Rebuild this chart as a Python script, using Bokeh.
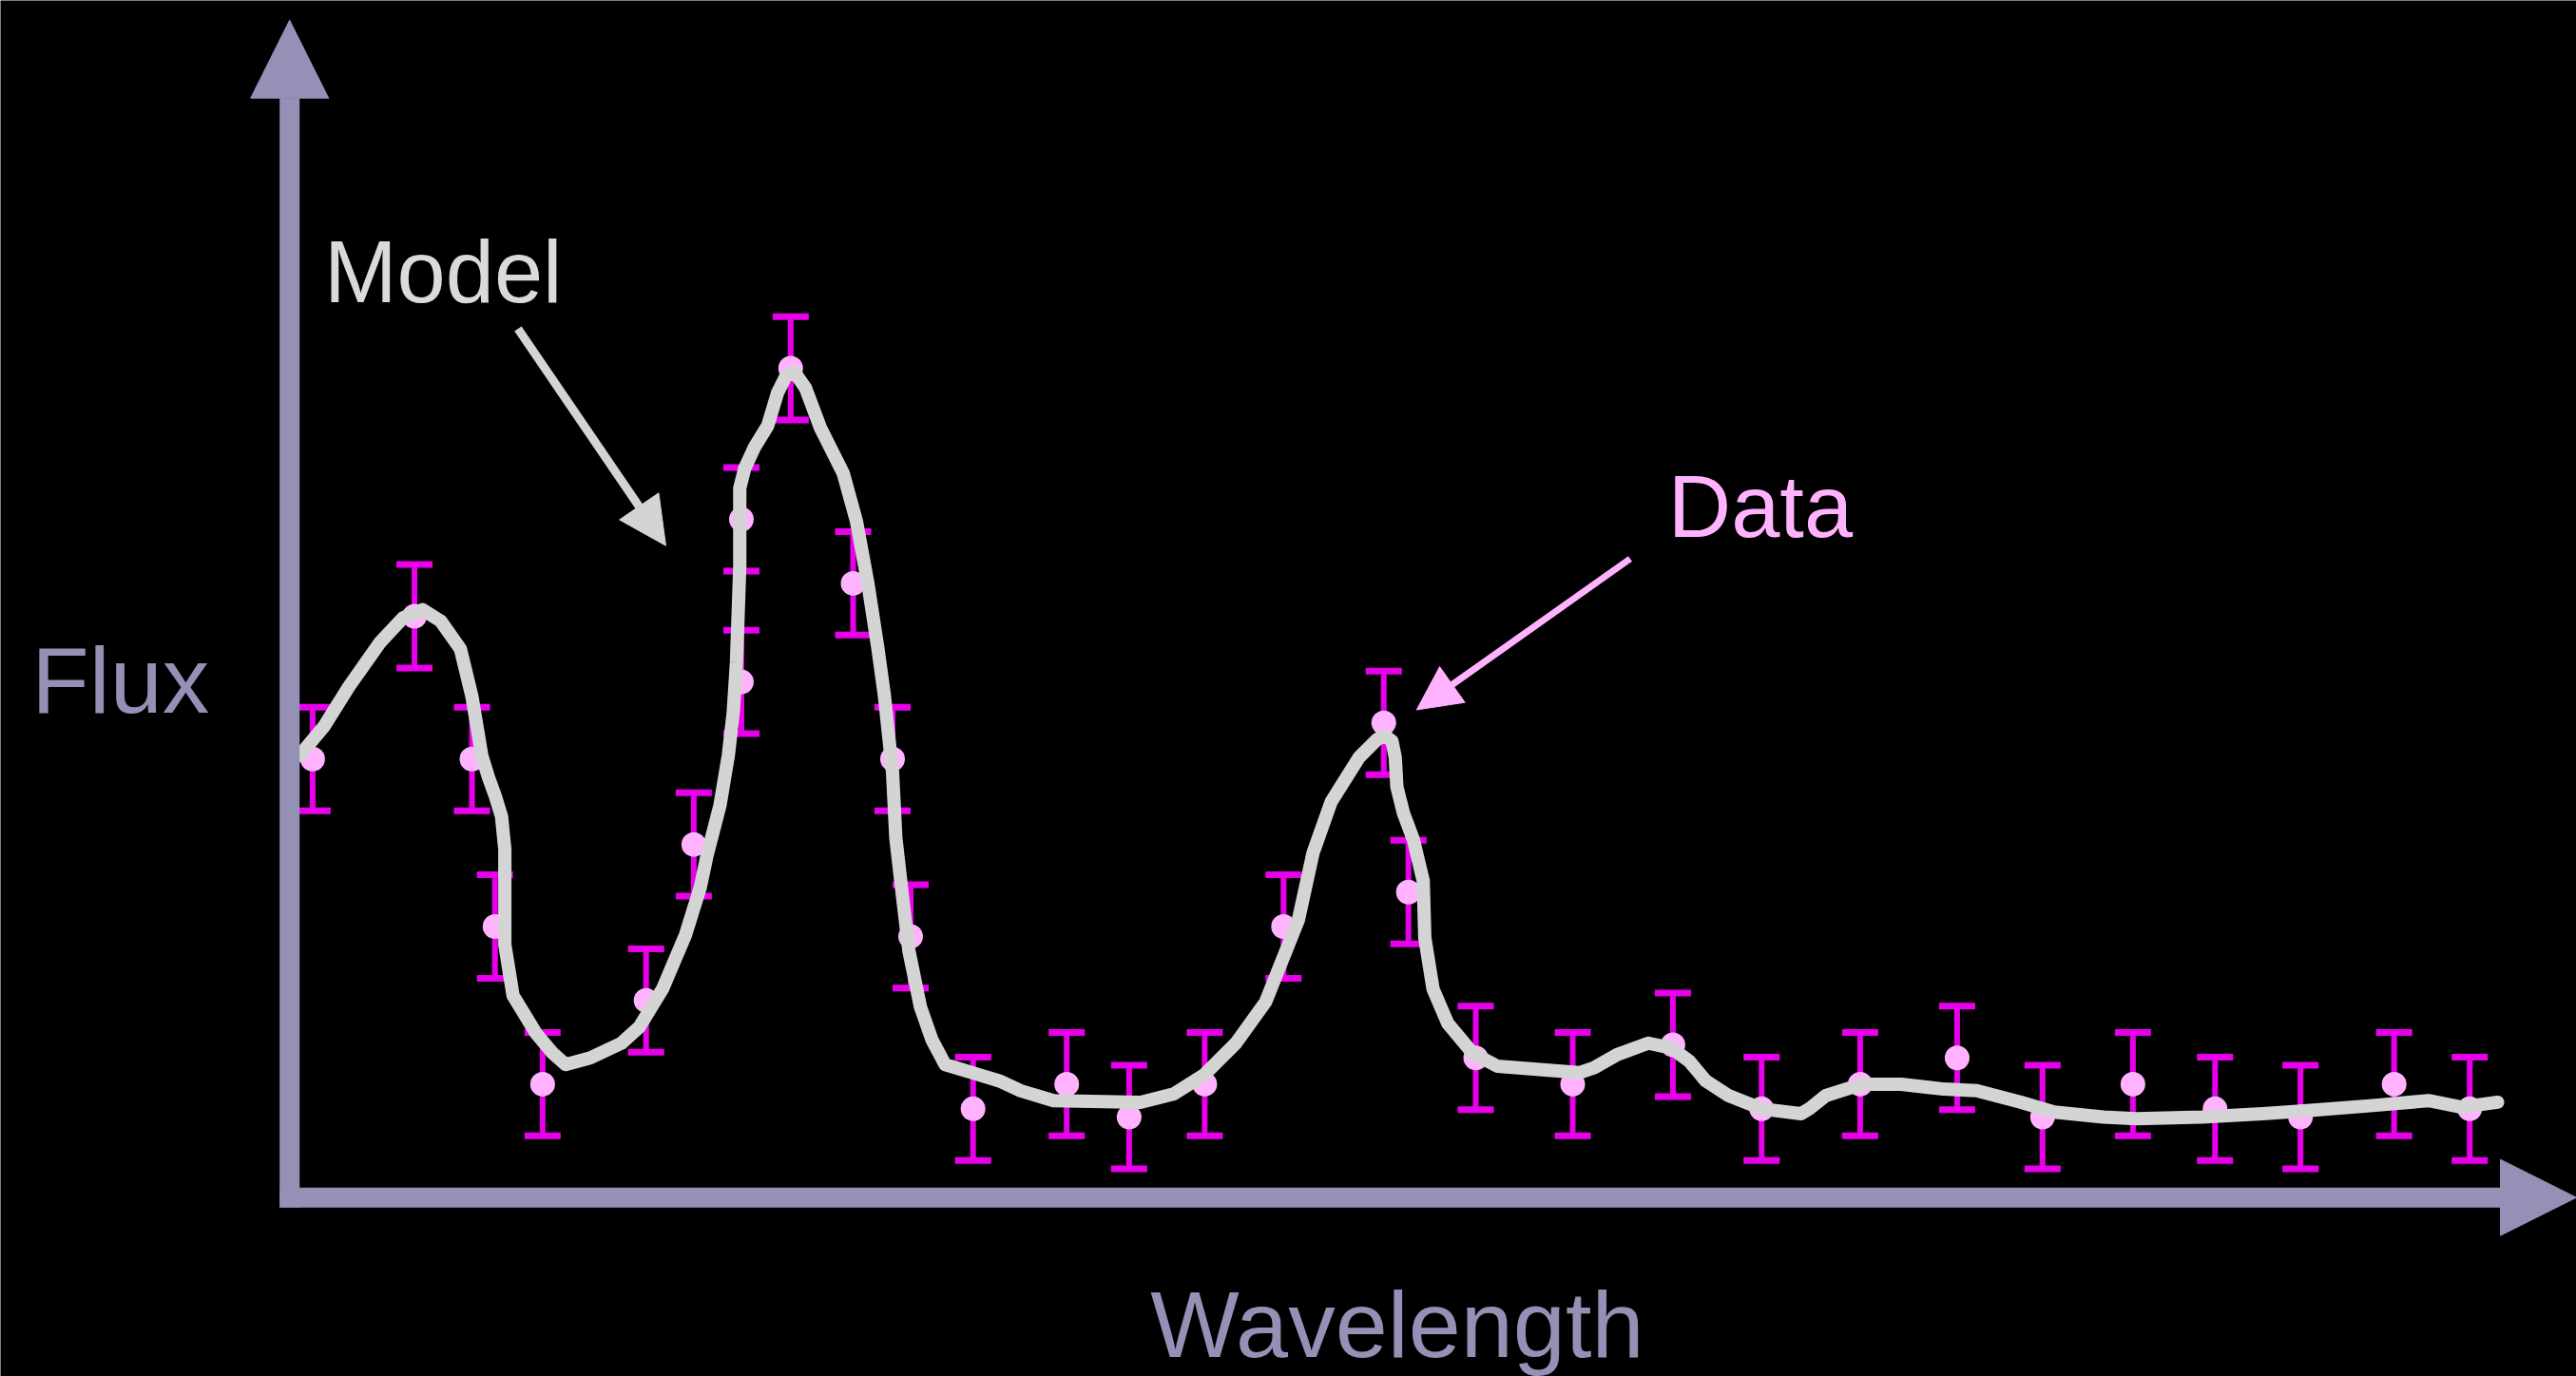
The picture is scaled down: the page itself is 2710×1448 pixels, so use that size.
from bokeh.plotting import figure
from bokeh.models import (Range1d, Whisker, TeeHead, Arrow, NormalHead,
                          ColumnDataSource, Label)
from bokeh.embed import file_html
from bokeh.resources import INLINE

# ---- data (wavelength / flux in arbitrary units) ----
wavelength = [14, 76, 111, 125, 154, 217, 246, 275, 275, 305, 343, 367, 378, 416,
              473, 511, 557, 605, 666, 681, 722, 781, 842, 896, 956, 1015, 1067,
              1122, 1172, 1224, 1281, 1327]
flux = [267, 354, 267, 165, 69, 120, 215, 314, 413, 505, 374, 267, 159, 54,
        69, 49, 69, 165, 289, 186, 85, 69, 93, 54, 69, 85, 49,
        69, 54, 49, 69, 54]
flux_err = [31.5, 31.5, 31.5, 31.5, 31.5, 31.5, 31.5, 31.5, 31.5, 31.5, 31.5,
            31.5, 31.5, 31.5, 31.5, 31.5, 31.5, 31.5, 31.5, 31.5, 31.5, 31.5,
            31.5, 31.5, 31.5, 31.5, 31.5, 31.5, 31.5, 31.5, 31.5, 31.5]

model_wl = [6, 21, 36, 55, 69, 81, 92, 104, 111, 114, 117, 121, 125, 129, 131, 131,
            131, 136, 150, 160, 168, 183, 202, 213, 227, 241, 250, 254, 262, 267,
            270, 272, 274, 274, 277, 283, 291, 297, 302, 307, 314, 323, 337, 345,
            352, 358, 362, 367, 369, 373, 377, 384, 391, 399, 432, 445, 465, 518,
            538, 557, 576, 594, 614, 623, 634, 651, 662, 667, 671, 673, 674, 678,
            684, 690, 691, 696, 705, 720, 735, 785, 794, 808, 827, 841, 852, 862,
            876, 896, 920, 925, 935, 957, 981, 1007, 1027, 1054, 1074, 1104, 1124,
            1164, 1201, 1230, 1268, 1302, 1322, 1344]
model_flux = [269, 287, 311, 338, 353, 358, 351, 334, 305, 287, 269, 256, 245, 232,
              212, 184, 154, 123, 100, 88, 81, 85, 94, 104, 127, 160, 189, 208, 239,
              269, 295, 326, 384, 432, 444, 457, 470, 490, 500, 503, 493, 469, 441,
              412, 374, 335, 306, 259, 219, 184, 150, 116, 96, 81, 71, 65, 59, 58,
              63, 75, 94, 119, 169, 210, 241, 268, 279, 281, 278, 268, 250, 234,
              218, 193, 158, 127, 106, 88, 80, 76, 79, 87, 94, 91, 83, 71,
              62, 54, 51, 54, 62, 69, 69, 66, 65, 58, 52, 49, 48,
              49, 51, 53, 56, 59, 55, 58]

x_label = "Wavelength"
y_label = "Flux"
model_label = "Model"
data_label = "Data"

# ---- styles ----
AXIS = "#9590b6"
MAGENTA = "#e800ea"
PINK = "#ffb3ff"
GREY = "#d4d4d4"
FONT = "Liberation Sans"

p = figure(width=2710, height=1448,
           x_range=Range1d(-176, 1392), y_range=Range1d(-109, 729),
           output_backend="svg", toolbar_location=None, min_border=0,
           background_fill_color="black", border_fill_color="black",
           outline_line_color=None, x_axis_type=None, y_axis_type=None)
p.grid.visible = False

upper = [f + e for f, e in zip(flux, flux_err)]
lower = [f - e for f, e in zip(flux, flux_err)]
src = ColumnDataSource(dict(x=wavelength, y=flux, upper=upper, lower=lower))

p.add_layout(Whisker(source=src, base="x", upper="upper", lower="lower",
                     dimension="height", line_color=MAGENTA, line_width=6,
                     upper_head=TeeHead(size=38, line_color=MAGENTA, line_width=7),
                     lower_head=TeeHead(size=38, line_color=MAGENTA, line_width=7)))

p.scatter("x", "y", source=src, size=26, fill_color=PINK, line_color=None)

p.line(model_wl, model_flux, line_color=GREY, line_width=14,
       line_join="round", line_cap="round")

# annotation arrows
p.add_layout(Arrow(x_start=139, y_start=529, x_end=229, y_end=397,
                   line_color=GREY, line_width=9,
                   end=NormalHead(size=50, fill_color=GREY, line_color=GREY, line_width=1)))
p.add_layout(Arrow(x_start=816, y_start=389, x_end=686, y_end=297,
                   line_color=PINK, line_width=7,
                   end=NormalHead(size=46, fill_color=PINK, line_color=PINK, line_width=1)))

# axes as arrows
p.add_layout(Arrow(x_start=0, y_start=-6, x_end=0, y_end=717,
                   line_color=AXIS, line_width=21,
                   end=NormalHead(size=82, fill_color=AXIS, line_color=AXIS, line_width=1)))
p.add_layout(Arrow(x_start=-6, y_start=0, x_end=1392, y_end=0,
                   line_color=AXIS, line_width=21,
                   end=NormalHead(size=80, fill_color=AXIS, line_color=AXIS, line_width=1)))

p.add_layout(Label(x=21, y=564, text=model_label, text_font=FONT,
                   text_font_size="92px", text_color="#dadada",
                   text_baseline="alphabetic"))
p.add_layout(Label(x=839, y=421, text=data_label, text_font=FONT,
                   text_font_size="92px", text_color=PINK,
                   text_baseline="alphabetic"))
p.add_layout(Label(x=-157, y=315, text=y_label, text_font=FONT,
                   text_font_size="99px", text_color=AXIS,
                   text_baseline="alphabetic"))
p.add_layout(Label(x=524, y=-77, text=x_label, text_font=FONT,
                   text_font_size="99px", text_color=AXIS,
                   text_baseline="alphabetic"))

open("out.html", "w").write(file_html(p, INLINE))
